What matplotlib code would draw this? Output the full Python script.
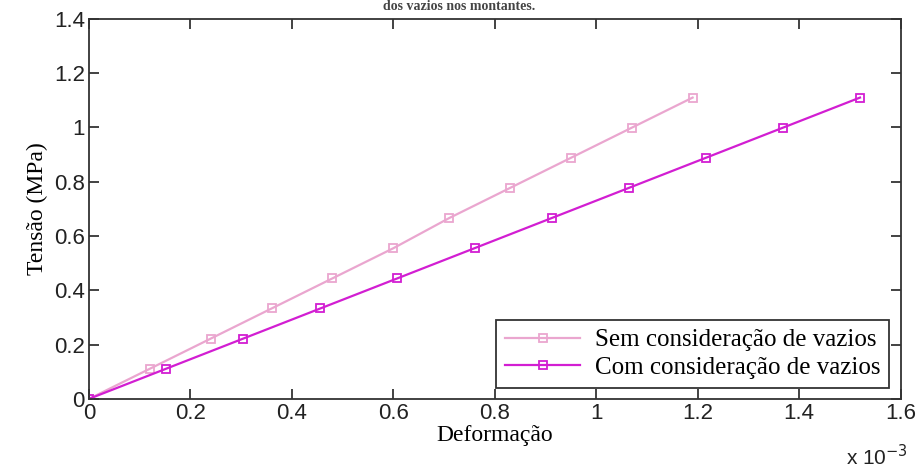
import matplotlib
matplotlib.use("Agg")
import matplotlib.pyplot as plt
from matplotlib.ticker import FuncFormatter

# deformation (x 10^-3) and stress (MPa)
def_sem = [0, 0.12, 0.24, 0.36, 0.48, 0.60, 0.71, 0.83, 0.95, 1.07, 1.19]
def_com = [0, 0.152, 0.304, 0.456, 0.608, 0.76, 0.912, 1.064, 1.216, 1.368, 1.52]
tensao = [0, 0.111, 0.222, 0.333, 0.444, 0.555, 0.666, 0.777, 0.888, 0.999, 1.11]

labels = ["Sem consideração de vazios", "Com consideração de vazios"]
x_ticks = [0, 0.2, 0.4, 0.6, 0.8, 1.0, 1.2, 1.4, 1.6]
y_ticks = [0, 0.2, 0.4, 0.6, 0.8, 1.0, 1.2, 1.4]

tick_font = ["Liberation Sans Narrow", "Liberation Sans", "DejaVu Sans"]
serif = ["Liberation Serif", "DejaVu Serif"]

fig = plt.figure(figsize=(9.18, 4.72), dpi=100)
ax = fig.add_axes([0.097, 0.155, 0.884, 0.805])

ax.plot(def_sem, tensao, color="#eaa6cf", lw=1.6, marker="s", ms=5.5,
        mfc="none", mec="#eaa6cf", mew=1.3, label=labels[0])
ax.plot(def_com, tensao, color="#d21ed2", lw=1.6, marker="s", ms=5.5,
        mfc="none", mec="#d21ed2", mew=1.3, label=labels[1])

ax.set_xlim(0, 1.6)
ax.set_ylim(0, 1.4)
ax.set_xticks(x_ticks)
ax.set_yticks(y_ticks)
fmt = FuncFormatter(lambda v, p: "%g" % round(v, 2))
ax.xaxis.set_major_formatter(fmt)
ax.yaxis.set_major_formatter(fmt)
ax.tick_params(direction="in", top=True, right=True, length=7, width=1.2,
               labelsize=16, pad=3, colors="#222222")
for lab in ax.get_xticklabels() + ax.get_yticklabels():
    lab.set_family(tick_font)
    lab.set_color("#222222")
for s in ax.spines.values():
    s.set_color("#333333")
    s.set_linewidth(1.3)

ax.set_xlabel("Deformação", family=serif, fontsize=17, labelpad=1)
ax.set_ylabel("Tensão (MPa)", family=serif, fontsize=17, labelpad=4)

fig.text(0.955, 0.005, r"x 10$^{-3}$", family=tick_font, fontsize=15,
         ha="center", va="bottom", color="#222222")
fig.text(0.5, 0.999, "dos vazios nos montantes.", family=serif, fontsize=10,
         ha="center", va="top", weight="bold", color="#444444")

leg = ax.legend(loc="lower right", prop={"family": serif, "size": 18},
                fancybox=False, edgecolor="#333333", framealpha=1,
                borderaxespad=0.45, handlelength=3.0, labelspacing=0.2,
                borderpad=0.35, handletextpad=0.6)
leg.get_frame().set_linewidth(1.3)

fig.savefig("out.png", dpi=100)
